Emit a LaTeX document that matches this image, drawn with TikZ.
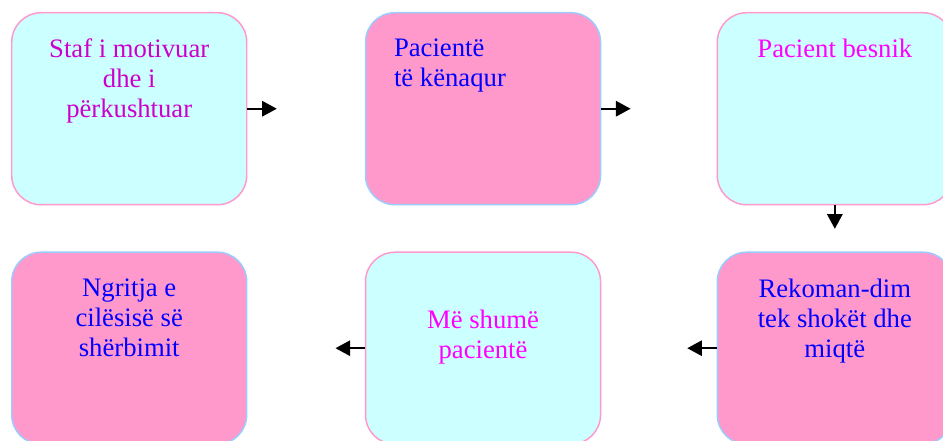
\documentclass[tikz,border=0pt]{standalone}
\usepackage{fontspec}
\setmainfont{Liberation Serif}
\usetikzlibrary{arrows.meta, positioning}

\definecolor{paleCyan}{HTML}{CCFFFF}
\definecolor{rosePink}{HTML}{FF99CC}
\definecolor{skyBlue}{HTML}{99CCFF}
\definecolor{deepMagenta}{HTML}{CC00CC}
\definecolor{brightMagenta}{HTML}{FF00FF}
\definecolor{pureBlue}{HTML}{0000FF}

\begin{document}
\begin{tikzpicture}[font=\fontsize{20}{22.5}\selectfont,
                flow box/.style={draw, rounded corners=22pt, line width=1.1pt, minimum width=176.25pt, minimum height=144pt, inner sep=0pt},
                cyan box/.style={flow box, fill=paleCyan, draw=rosePink},
                pink box/.style={flow box, fill=rosePink, draw=skyBlue},
                box text/.style={align=center, inner sep=0pt, anchor=north},
                flow/.style={line width=1.5pt, -{Triangle[length=11pt, width=11.5pt]}}]

                \useasboundingbox (0,0) rectangle (707.25pt,-330.75pt);

                % Upper row
                \node[cyan box, anchor=north west] (staf) at (8.25pt,-9pt) {};
                \node[box text, text=deepMagenta] at ([yshift=-20pt]staf.north) {Staf i motivuar\\dhe i\\përkushtuar};
                \node[pink box, right=88pt of staf] (kenaqur) {};
                \node[box text, anchor=north west, align=left, text=pureBlue] at ([xshift=21.75pt, yshift=-20pt]kenaqur.north west) {Pacientë\\të kënaqur};
                \node[cyan box, right=86.5pt of kenaqur] (besnik) {};
                \node[box text, text=brightMagenta] at ([yshift=-20pt]besnik.north) {Pacient besnik};

                % Lower row, running back to the left
                \node[pink box, below=34.5pt of besnik] (rekomandim) {};
                \node[box text, text=pureBlue] at ([yshift=-20.5pt]rekomandim.north) {Rekoman-dim\\tek shokët dhe\\miqtë};
                \node[cyan box, left=86.5pt of rekomandim] (shume) {};
                \node[box text, text=brightMagenta] at ([yshift=-43.5pt]shume.north) {Më shumë\\pacientë};
                \node[pink box, left=88pt of shume] (ngritja) {};
                \node[box text, text=pureBlue] at ([yshift=-20.5pt]ngritja.north) {Ngritja e\\cilësisë së\\shërbimit};

                % Short arrows between the steps
                \coordinate (a1) at ([xshift=22pt]staf.east);
                \coordinate (a2) at ([xshift=22pt]kenaqur.east);
                \coordinate (a3) at ([yshift=-17.5pt]besnik.south);
                \coordinate (a4) at ([xshift=-22pt]rekomandim.west);
                \coordinate (a5) at ([xshift=-22pt]shume.west);
                \draw[flow] (staf.east) -- (a1);
                \draw[flow] (kenaqur.east) -- (a2);
                \draw[flow] (besnik.south) -- (a3);
                \draw[flow] (rekomandim.west) -- (a4);
                \draw[flow] (shume.west) -- (a5);
            \end{tikzpicture}
\end{document}
